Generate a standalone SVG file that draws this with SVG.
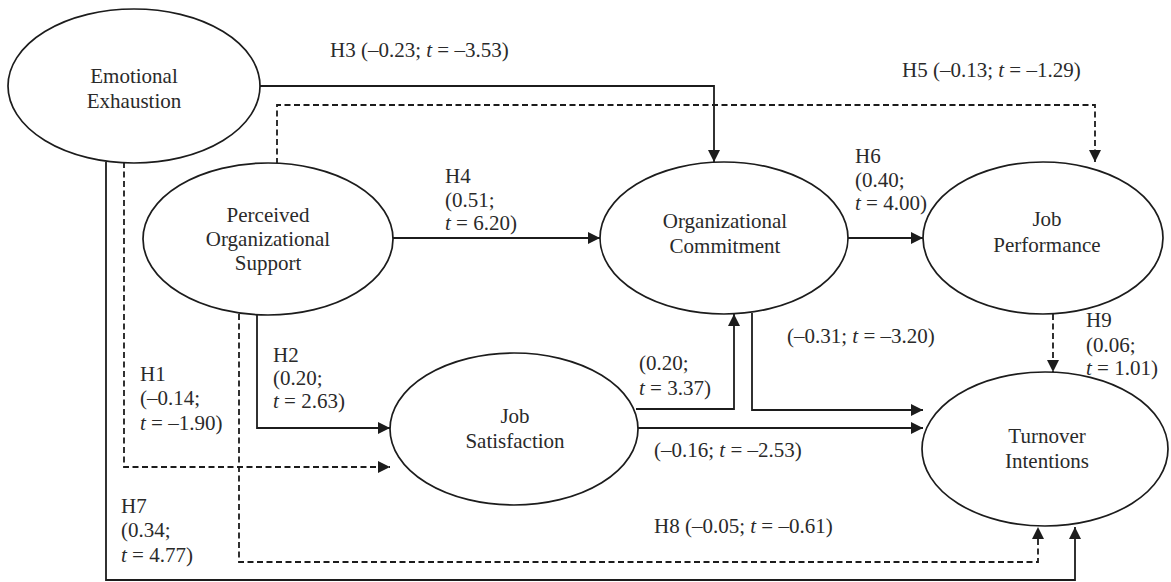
<svg xmlns="http://www.w3.org/2000/svg" width="1171" height="582" viewBox="0 0 1171 582">
  <defs>
    <marker id="arrow" viewBox="0 0 12 12" refX="12" refY="6" markerWidth="12" markerHeight="12" markerUnits="userSpaceOnUse" orient="auto">
      <path d="M0,0 L12,6 L0,12 Z" fill="#1c1c1c"/>
    </marker>
    <style>
      .node { fill: #ffffff; stroke: #1c1c1c; stroke-width: 1.7; }
      .lbl { font-family: "Liberation Serif", "Times New Roman", serif; font-size: 21px; fill: #2a2a2a; }
      .nodelbl { font-family: "Liberation Serif", "Times New Roman", serif; font-size: 21px; fill: #2a2a2a; text-anchor: middle; }
      .it { font-style: italic; }
      .solid { fill: none; stroke: #1c1c1c; stroke-width: 1.8; marker-end: url(#arrow); }
      .dash { fill: none; stroke: #1c1c1c; stroke-width: 1.8; stroke-dasharray: 6 3.5; marker-end: url(#arrow); }
    </style>
  </defs>
  <rect width="1171" height="582" fill="#ffffff"/>

  <!-- connectors -->
  <g id="connectors">
    <!-- H3: Emotional Exhaustion -> Organizational Commitment -->
    <path class="solid" d="M259,86 H714 V162"/>
    <!-- H5: Perceived Organizational Support -> Job Performance -->
    <path class="dash" d="M277,164 V105 H1095 V162"/>
    <!-- H4: POS -> Organizational Commitment -->
    <path class="solid" d="M393,238 H600"/>
    <!-- H6: Organizational Commitment -> Job Performance -->
    <path class="solid" d="M848,238 H923"/>
    <!-- H9: Job Performance -> Turnover Intentions -->
    <path class="dash" d="M1053,314 V372"/>
    <!-- H2: POS -> Job Satisfaction -->
    <path class="solid" d="M257,315 V428 H390"/>
    <!-- H1: Emotional Exhaustion -> Job Satisfaction -->
    <path class="dash" d="M124,162 V467 H390"/>
    <!-- Job Satisfaction -> Organizational Commitment -->
    <path class="solid" d="M636,409 H734 V314"/>
    <!-- Organizational Commitment -> Turnover Intentions -->
    <path class="solid" d="M752,313 V410 H923"/>
    <!-- Job Satisfaction -> Turnover Intentions -->
    <path class="solid" d="M638,428 H923"/>
    <!-- H8: POS -> Turnover Intentions -->
    <path class="dash" d="M239,314 V562 H1038 V527"/>
    <!-- H7: Emotional Exhaustion -> Turnover Intentions -->
    <path class="solid" d="M106,162 V580 H1075 V527"/>
  </g>

  <!-- nodes -->
  <g id="emotional-exhaustion">
    <ellipse class="node" cx="134" cy="86" rx="126" ry="77"/>
    <text class="nodelbl" x="134" y="83">Emotional</text>
    <text class="nodelbl" x="134" y="108">Exhaustion</text>
  </g>
  <g id="perceived-organizational-support">
    <ellipse class="node" cx="268" cy="239" rx="125" ry="76"/>
    <text class="nodelbl" x="268" y="222">Perceived</text>
    <text class="nodelbl" x="268" y="246">Organizational</text>
    <text class="nodelbl" x="268" y="270">Support</text>
  </g>
  <g id="organizational-commitment">
    <ellipse class="node" cx="724" cy="238" rx="124" ry="76"/>
    <text class="nodelbl" x="725" y="228">Organizational</text>
    <text class="nodelbl" x="725" y="253">Commitment</text>
  </g>
  <g id="job-performance">
    <ellipse class="node" cx="1043" cy="238" rx="120" ry="76"/>
    <text class="nodelbl" x="1047" y="226">Job</text>
    <text class="nodelbl" x="1047" y="252">Performance</text>
  </g>
  <g id="job-satisfaction">
    <ellipse class="node" cx="514" cy="429" rx="124" ry="76"/>
    <text class="nodelbl" x="515" y="423">Job</text>
    <text class="nodelbl" x="515" y="448">Satisfaction</text>
  </g>
  <g id="turnover-intentions">
    <ellipse class="node" cx="1045" cy="449" rx="123" ry="77"/>
    <text class="nodelbl" x="1047" y="443">Turnover</text>
    <text class="nodelbl" x="1047" y="468">Intentions</text>
  </g>

  <!-- path labels -->
  <g id="labels">
    <text class="lbl" x="330" y="57">H3 (–0.23; <tspan class="it">t</tspan> = –3.53)</text>
    <text class="lbl" x="902" y="77">H5 (–0.13; <tspan class="it">t</tspan> = –1.29)</text>

    <text class="lbl" x="445" y="183">H4</text>
    <text class="lbl" x="445" y="207">(0.51;</text>
    <text class="lbl" x="445" y="230"><tspan class="it">t</tspan> = 6.20)</text>

    <text class="lbl" x="855" y="163">H6</text>
    <text class="lbl" x="855" y="187">(0.40;</text>
    <text class="lbl" x="855" y="210"><tspan class="it">t</tspan> = 4.00)</text>

    <text class="lbl" x="787" y="343">(–0.31; <tspan class="it">t</tspan> = –3.20)</text>

    <text class="lbl" x="1086" y="327">H9</text>
    <text class="lbl" x="1086" y="352">(0.06;</text>
    <text class="lbl" x="1086" y="375"><tspan class="it">t</tspan> = 1.01)</text>

    <text class="lbl" x="639" y="370">(0.20;</text>
    <text class="lbl" x="639" y="395"><tspan class="it">t</tspan> = 3.37)</text>

    <text class="lbl" x="654" y="457">(–0.16; <tspan class="it">t</tspan> = –2.53)</text>
    <text class="lbl" x="654" y="533">H8 (–0.05; <tspan class="it">t</tspan> = –0.61)</text>

    <text class="lbl" x="273" y="362">H2</text>
    <text class="lbl" x="273" y="385">(0.20;</text>
    <text class="lbl" x="273" y="408"><tspan class="it">t</tspan> = 2.63)</text>

    <text class="lbl" x="140" y="381">H1</text>
    <text class="lbl" x="140" y="405">(–0.14;</text>
    <text class="lbl" x="140" y="430"><tspan class="it">t</tspan> = –1.90)</text>

    <text class="lbl" x="121" y="513">H7</text>
    <text class="lbl" x="121" y="537">(0.34;</text>
    <text class="lbl" x="121" y="562"><tspan class="it">t</tspan> = 4.77)</text>
  </g>
</svg>
